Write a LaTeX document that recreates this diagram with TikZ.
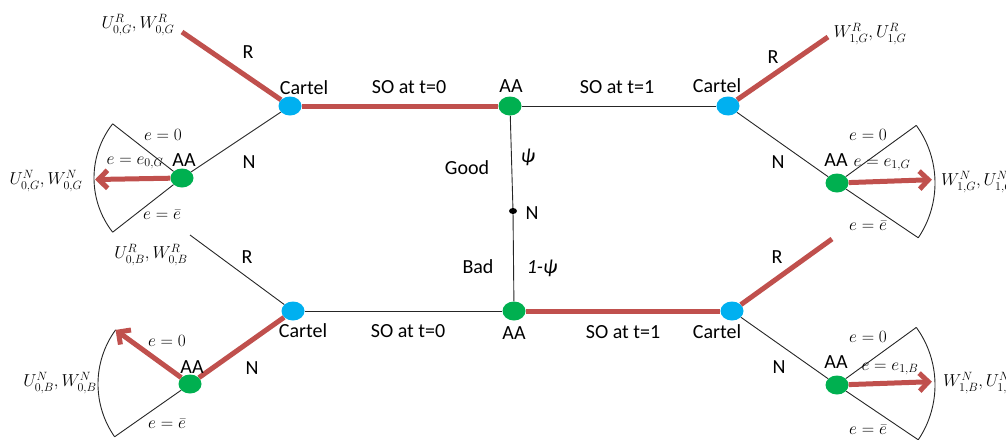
\documentclass[tikz,border=0pt]{standalone}
\usepackage{fontspec}
\setmainfont{Carlito}
\usetikzlibrary{shapes.geometric,arrows.meta,calc,backgrounds}
\definecolor{cred}{RGB}{192,80,77}
\definecolor{cblue}{RGB}{0,176,240}
\definecolor{cgreen}{RGB}{0,176,80}
\begin{document}
\begin{tikzpicture}[x=1pt,y=-1pt,
 cartel/.style={ellipse,fill=cblue,minimum width=23pt,minimum height=19pt,inner sep=0pt},
 aanode/.style={ellipse,fill=cgreen,minimum width=23pt,minimum height=19pt,inner sep=0pt},
 chance/.style={ellipse,fill=black,minimum width=8pt,minimum height=6pt,inner sep=0pt},
 redline/.style={draw=cred,line width=5pt},
 thinline/.style={draw=black!85,line width=0.9pt},
 redarrow/.style={draw=cred,line width=5pt,-{Straight Barb[length=9pt,width=18pt]}},
 lab/.style={font=\fontsize{20}{24}\selectfont,inner sep=0pt},
 mlab/.style={font=\fontsize{17}{20}\selectfont,inner sep=0pt},
]
\clip (0,0) rectangle (1006,439);
% decision nodes
\node[cartel] (c1) at (290,106) {};
\node[aanode] (a0) at (510,106) {};
\node[cartel] (c2) at (728,106) {};
\node[chance] (nc) at (513,211) {};
\node[aanode] (b0) at (514,311) {};
\node[cartel] (c3) at (293,311) {};
\node[cartel] (c4) at (732,311) {};
\node[aanode] (a1) at (182,178) {};
\node[aanode] (a2) at (837,183) {};
\node[aanode] (a3) at (190,384) {};
\node[aanode] (a4) at (837,385) {};
% free ends
\coordinate (r1) at (182,32);
\coordinate (r2) at (828,37);
\coordinate (r3) at (190,235);
\coordinate (r4) at (832,239);
\coordinate (f1u) at ($(a1)+(142:88pt)$);
\coordinate (f1l) at ($(a1)+(218:88pt)$);
\coordinate (t1) at ($(a1)+(181:87pt)$);
\coordinate (f2u) at ($(a2)+(36:98pt)$);
\coordinate (f2l) at ($(a2)+(-34:98pt)$);
\coordinate (t2) at ($(a2)+(2:95pt)$);
\coordinate (f3u) at ($(a3)+(144:92pt)$);
\coordinate (f3l) at ($(a3)+(215:92pt)$);
\coordinate (f4u) at ($(a4)+(36:98pt)$);
\coordinate (f4l) at ($(a4)+(-34:98pt)$);
\coordinate (t4) at ($(a4)+(2:95pt)$);
\begin{scope}[on background layer]
\draw[redline] (c1) -- (r1);
\draw[thinline] (c1) -- (a1);
\draw[redline] (c1) -- (a0);
\draw[thinline] (a0) -- (c2);
\draw[redline] (c2) -- (r2);
\draw[thinline] (c2) -- (a2);
\draw[thinline] (a0) -- (nc) -- (b0);
\draw[thinline] (c3) -- (r3);
\draw[redline] (c3) -- (a3);
\draw[thinline] (c3) -- (b0);
\draw[redline] (b0) -- (c4);
\draw[redline] (c4) -- (r4);
\draw[thinline] (c4) -- (a4);
% fans
\draw[thinline] (f1u) -- (a1) -- (f1l);
\draw[thinline] (f1u) arc[start angle=142,end angle=218,radius=88pt];
\draw[thinline] (f2u) -- (a2) -- (f2l);
\draw[thinline] (f2u) arc[start angle=36,end angle=-34,radius=98pt];
\draw[thinline] (f3u) -- (a3) -- (f3l);
\draw[thinline] (f3u) arc[start angle=144,end angle=215,radius=92pt];
\draw[thinline] (f4u) -- (a4) -- (f4l);
\draw[thinline] (f4u) arc[start angle=36,end angle=-34,radius=98pt];
\end{scope}
\draw[redarrow] (a1) -- (t1);
\draw[redarrow] (a2) -- (t2);
\draw[redarrow] (a3) -- (f3u);
\draw[redarrow] (a4) -- (t4);
% labels top
\node[mlab] (lrg0) at (138,25) {$U^{R}_{0,G},W^{R}_{0,G}$};
\node[lab] (lr1) at (248,52) {R};
\node[lab] (lc1) at (304,88) {Cartel};
\node[lab] (lso1) at (409,87) {SO at t=0};
\node[lab] (la0) at (511,86) {AA};
\node[lab] (lso2) at (617,87) {SO at t=1};
\node[lab] (lc2) at (717,86) {Cartel};
\node[lab] (lr2) at (773,57) {R};
\node[mlab] (lrg1) at (870,34) {$W^{R}_{1,G},U^{R}_{1,G}$};
\node[mlab] (le1a) at (163,135) {$e=0$};
\node[mlab] (le1b) at (135,163) {$e=e_{0,G}$};
\node[lab] (la1) at (184,160) {AA};
\node[lab] (ln1) at (249,162) {N};
\node[mlab] (lng0) at (46,181) {$U^{N}_{0,G},W^{N}_{0,G}$};
\node[mlab] (le1c) at (162,215) {$e=\bar{e}$};
\node[lab] (lgood) at (467,168) {Good};
\node[lab] (lpsi) at (528,157) {\itshape ψ};
\node[lab] (lnn) at (532,213) {N};
\node[lab] (lbad) at (478,267) {Bad};
\node[lab] (lpsi2) at (542,268) {\itshape 1-ψ};
\node[mlab] (le2a) at (868,135) {$e=0$};
\node[mlab] (le2b) at (882,165) {$e=e_{1,G}$};
\node[lab] (la2) at (836,160) {AA};
\node[lab] (ln2) at (778,162) {N};
\node[mlab] (le2c) at (868,226) {$e=\bar{e}$};
\node[mlab,anchor=west] (lng1) at (941,182) {$W^{N}_{1,G},U^{N}_{1,G}$};
% labels bottom
\node[mlab] (lrb0) at (151,255) {$U^{R}_{0,B},W^{R}_{0,B}$};
\node[lab] (lr3) at (247,257) {R};
\node[lab] (lc3) at (303,331) {Cartel};
\node[lab] (lso3) at (408,331) {SO at t=0};
\node[lab] (lb0) at (514,333) {AA};
\node[lab] (lso4) at (623,332) {SO at t=1};
\node[lab] (lc4) at (717,332) {Cartel};
\node[lab] (lr4) at (777,257) {R};
\node[lab] (ln3) at (252,368) {N};
\node[lab] (la3) at (192,367) {AA};
\node[mlab] (le3a) at (167,341) {$e=0$};
\node[mlab] (lnb0) at (60,383) {$U^{N}_{0,B},W^{N}_{0,B}$};
\node[mlab] (le3c) at (167,424) {$e=\bar{e}$};
\node[lab] (ln4) at (779,367) {N};
\node[lab] (la4) at (836,362) {AA};
\node[mlab] (le4a) at (868,337) {$e=0$};
\node[mlab] (le4b) at (890,369) {$e=e_{1,B}$};
\node[mlab] (le4c) at (868,430) {$e=\bar{e}$};
\node[mlab,anchor=west] (lnb1) at (943,383) {$W^{N}_{1,B},U^{N}_{1,B}$};
\end{tikzpicture}
\end{document}
